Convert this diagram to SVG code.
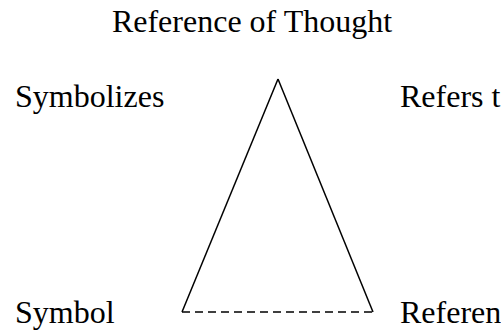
<svg xmlns="http://www.w3.org/2000/svg" width="501" height="332" viewBox="0 0 501 332">
<style>
text{font-family:"Liberation Serif","Times New Roman",serif;font-size:32px;fill:#000}
.e{stroke:#000;stroke-width:1.5;fill:none}
.d{stroke-dasharray:8,5}
</style>
<rect width="501" height="332" fill="#fff"/>
<g id="thought"><text x="252" y="32" text-anchor="middle">Reference of Thought</text></g>
<g id="symbolizes"><text x="15" y="107">Symbolizes</text></g>
<g id="refersto"><text x="400" y="107">Refers to</text></g>
<g id="symbol"><text x="15" y="323">Symbol</text></g>
<g id="referent"><text x="400" y="323">Referent</text></g>
<g id="connectors">
<line class="e" x1="278" y1="79" x2="182" y2="312"/>
<line class="e" x1="278" y1="79" x2="373" y2="312"/>
<line class="e d" x1="182" y1="312" x2="373" y2="312"/>
</g>
</svg>
